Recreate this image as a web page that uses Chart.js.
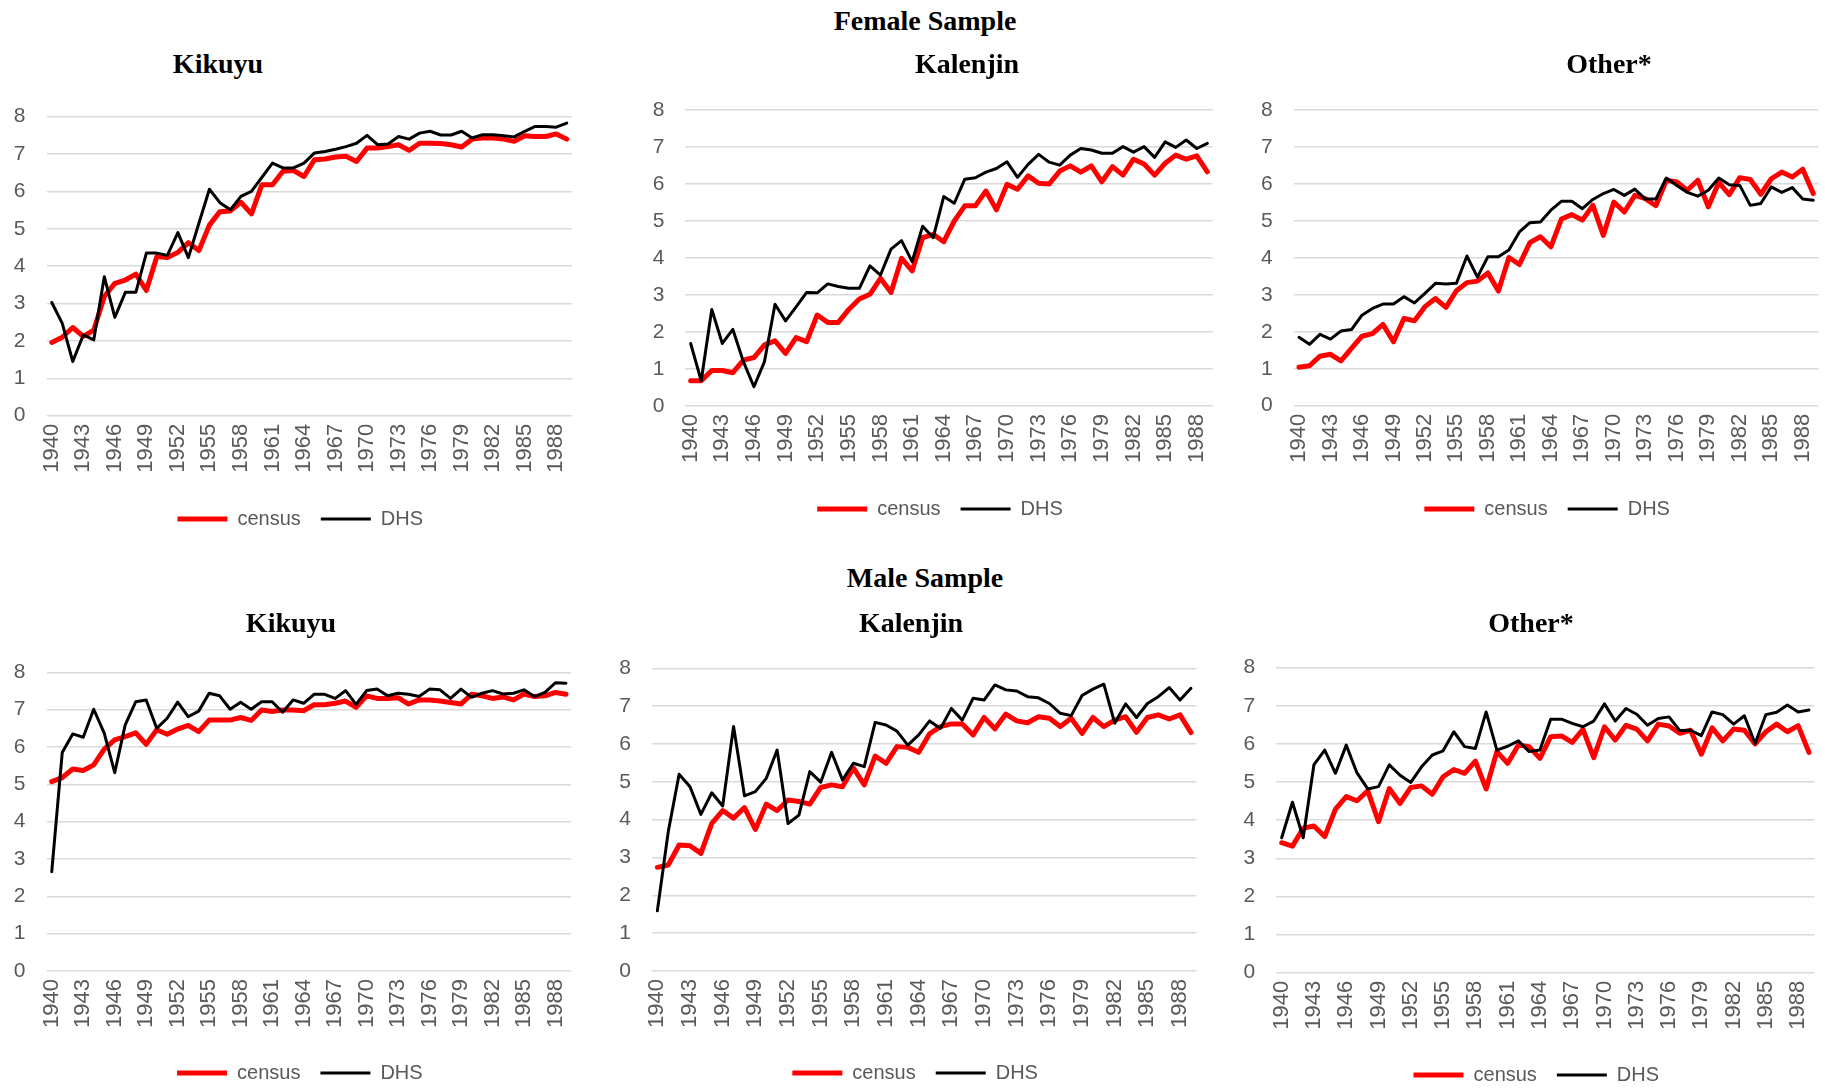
<!DOCTYPE html>
<html>
<head>
<meta charset="utf-8">
<script src="https://cdn.jsdelivr.net/npm/chart.js@4.4.1/dist/chart.umd.min.js"></script>
<style>
html, body { margin: 0; padding: 0; background: #fff; overflow: hidden; }
body { width: 1825px; height: 1091px; position: relative; }
canvas { position: absolute; }
.title {
    position: absolute;
    font-family: "Liberation Serif", "Times New Roman", serif;
    font-weight: bold;
    font-size: 28px;
    line-height: 1;
    color: #000;
    white-space: nowrap;
    transform: translate(-50%, -50%);
}
</style>
</head>
<body>
<div id="charts"></div>
<div class="title" style="left:925px;top:21px">Female Sample</div>
<div class="title" style="left:925px;top:578px">Male Sample</div>
<script>
const years = [
    '1940','1941','1942','1943','1944','1945','1946','1947','1948','1949',
    '1950','1951','1952','1953','1954','1955','1956','1957','1958','1959',
    '1960','1961','1962','1963','1964','1965','1966','1967','1968','1969',
    '1970','1971','1972','1973','1974','1975','1976','1977','1978','1979',
    '1980','1981','1982','1983','1984','1985','1986','1987','1988','1989'
];
const yTicks = [0, 1, 2, 3, 4, 5, 6, 7, 8];

// Female sample
const femaleKikuyuCensus = [1.96,2.10,2.36,2.12,2.29,3.19,3.54,3.63,3.79,3.35,4.26,4.23,4.37,4.63,4.42,5.10,5.46,5.48,5.71,5.40,6.18,6.18,6.54,6.56,6.40,6.85,6.87,6.92,6.94,6.80,7.16,7.16,7.20,7.25,7.10,7.29,7.29,7.28,7.25,7.19,7.40,7.43,7.43,7.40,7.34,7.49,7.47,7.47,7.54,7.40];
const femaleKikuyuDHS = [3.03,2.47,1.45,2.16,2.03,3.72,2.63,3.30,3.30,4.35,4.35,4.29,4.90,4.23,5.15,6.06,5.70,5.51,5.87,6.00,6.38,6.76,6.63,6.63,6.76,7.03,7.07,7.13,7.20,7.29,7.50,7.25,7.27,7.47,7.40,7.56,7.61,7.51,7.51,7.61,7.43,7.52,7.52,7.49,7.46,7.61,7.74,7.74,7.72,7.83];
const femaleKalenjinCensus = [0.68,0.68,0.96,0.96,0.90,1.24,1.31,1.65,1.76,1.42,1.85,1.74,2.46,2.26,2.26,2.61,2.89,3.02,3.45,3.07,3.99,3.65,4.55,4.64,4.44,5.00,5.41,5.41,5.81,5.30,5.99,5.86,6.22,6.02,6.00,6.35,6.49,6.32,6.49,6.06,6.47,6.24,6.67,6.54,6.24,6.56,6.78,6.67,6.76,6.33];
const femaleKalenjinDHS = [1.69,0.68,2.61,1.69,2.07,1.20,0.52,1.20,2.75,2.30,2.68,3.07,3.06,3.30,3.23,3.18,3.18,3.79,3.54,4.24,4.47,3.90,4.86,4.55,5.66,5.48,6.13,6.17,6.32,6.42,6.60,6.18,6.53,6.80,6.59,6.51,6.78,6.96,6.92,6.83,6.83,7.01,6.86,7.01,6.72,7.14,6.99,7.19,6.96,7.10];
const femaleOtherCensus = [1.04,1.08,1.34,1.39,1.21,1.55,1.88,1.95,2.20,1.73,2.36,2.30,2.68,2.90,2.66,3.11,3.33,3.37,3.59,3.10,4.01,3.82,4.41,4.57,4.30,5.05,5.17,5.02,5.42,4.61,5.51,5.24,5.69,5.60,5.41,6.10,6.05,5.83,6.10,5.38,6.04,5.71,6.17,6.12,5.72,6.14,6.32,6.19,6.40,5.74];
const femaleOtherDHS = [1.85,1.66,1.93,1.80,2.02,2.06,2.45,2.63,2.75,2.75,2.95,2.78,3.04,3.31,3.29,3.31,4.05,3.48,4.03,4.03,4.21,4.70,4.95,4.97,5.29,5.53,5.53,5.33,5.58,5.74,5.85,5.69,5.86,5.59,5.59,6.16,5.96,5.77,5.67,5.83,6.16,5.98,5.96,5.42,5.47,5.92,5.77,5.90,5.59,5.56];

// Male sample
const maleKikuyuCensus = [5.07,5.18,5.41,5.37,5.52,5.94,6.19,6.28,6.38,6.07,6.46,6.34,6.48,6.58,6.41,6.72,6.72,6.72,6.79,6.71,6.99,6.95,6.99,6.99,6.97,7.13,7.13,7.17,7.23,7.06,7.37,7.30,7.30,7.32,7.15,7.26,7.26,7.23,7.19,7.15,7.41,7.37,7.30,7.34,7.26,7.42,7.35,7.37,7.46,7.41];
const maleKikuyuDHS = [2.66,5.85,6.35,6.26,7.01,6.37,5.31,6.59,7.21,7.26,6.50,6.77,7.20,6.81,6.96,7.44,7.37,7.01,7.20,7.01,7.21,7.21,6.93,7.26,7.17,7.41,7.41,7.30,7.51,7.14,7.51,7.55,7.37,7.44,7.41,7.35,7.55,7.53,7.30,7.55,7.33,7.44,7.51,7.42,7.44,7.53,7.35,7.46,7.72,7.71];
const maleKalenjinCensus = [2.74,2.80,3.33,3.31,3.11,3.90,4.24,4.04,4.32,3.74,4.41,4.24,4.52,4.48,4.41,4.85,4.92,4.87,5.37,4.92,5.68,5.49,5.93,5.91,5.78,6.27,6.46,6.53,6.53,6.24,6.70,6.40,6.79,6.61,6.56,6.72,6.68,6.46,6.68,6.28,6.70,6.46,6.63,6.72,6.31,6.70,6.77,6.66,6.77,6.30];
const maleKalenjinDHS = [1.59,3.68,5.20,4.87,4.14,4.71,4.36,6.46,4.63,4.74,5.09,5.84,3.90,4.12,5.27,4.99,5.78,5.05,5.49,5.40,6.57,6.50,6.34,5.97,6.24,6.61,6.41,6.94,6.63,7.21,7.16,7.56,7.43,7.40,7.25,7.22,7.07,6.81,6.75,7.28,7.45,7.58,6.55,7.06,6.70,7.07,7.25,7.49,7.16,7.47];
const maleOtherCensus = [3.41,3.32,3.79,3.85,3.57,4.29,4.62,4.51,4.77,3.96,4.83,4.44,4.86,4.90,4.68,5.14,5.33,5.23,5.55,4.82,5.80,5.49,5.97,5.93,5.62,6.19,6.21,6.04,6.38,5.64,6.45,6.10,6.49,6.39,6.08,6.52,6.47,6.28,6.36,5.73,6.42,6.08,6.39,6.36,6.00,6.32,6.52,6.32,6.48,5.78];
const maleOtherDHS = [3.54,4.47,3.54,5.46,5.84,5.23,5.97,5.24,4.82,4.88,5.45,5.18,4.99,5.40,5.71,5.82,6.32,5.93,5.88,6.84,5.84,5.94,6.08,5.80,5.84,6.65,6.65,6.54,6.45,6.60,7.05,6.60,6.93,6.78,6.49,6.67,6.71,6.35,6.36,6.22,6.84,6.77,6.52,6.74,6.01,6.77,6.83,7.02,6.84,6.89];

// plot area boxes [left, top, right, bottom], legend centre y, title centre
const panels = [
    { title: 'Kikuyu',   tx: 218,  ty: 64,  census: femaleKikuyuCensus,   dhs: femaleKikuyuDHS,   box: [46.5, 116.7, 572, 415.7],     legendY: 519 },
    { title: 'Kalenjin', tx: 967,  ty: 64,  census: femaleKalenjinCensus, dhs: femaleKalenjinDHS, box: [685.4, 110, 1212.6, 406],     legendY: 509 },
    { title: 'Other*',   tx: 1609, ty: 64,  census: femaleOtherCensus,    dhs: femaleOtherDHS,    box: [1293.75, 110, 1818.5, 405.7], legendY: 509 },
    { title: 'Kikuyu',   tx: 291,  ty: 623, census: maleKikuyuCensus,     dhs: maleKikuyuDHS,     box: [46.5, 672.3, 571.2, 971],     legendY: 1073 },
    { title: 'Kalenjin', tx: 911,  ty: 623, census: maleKalenjinCensus,   dhs: maleKalenjinDHS,   box: [651.9, 668.3, 1196.4, 971],   legendY: 1073 },
    { title: 'Other*',   tx: 1531, ty: 623, census: maleOtherCensus,      dhs: maleOtherDHS,      box: [1276.3, 667.7, 1814.3, 972.7], legendY: 1075 }
];

Chart.defaults.font.family = "'Liberation Sans', Arial, sans-serif";
Chart.defaults.font.size = 20;
Chart.defaults.color = '#595959';

const Y_AXIS_W = 36;     // left value axis
const Y2_AXIS_W = 18;    // empty right axis, keeps the legend slightly left of the plot centre
const PAD_TOP = 36;
const LEGEND_H = 50;     // itemHeight 20 + padding 20 + 10
const container = document.getElementById('charts');

panels.forEach((p, n) => {
    const [left, top, right, bottom] = p.box;
    const plotW = right - left;
    const plotH = bottom - top;
    const xAxisH = p.legendY - 30 - bottom;

    const cLeft = Math.round(left - Y_AXIS_W - 4);
    const cTop = Math.round(top - PAD_TOP);
    const padL = left - Y_AXIS_W - cLeft;
    const padT = top - cTop;
    const W = Math.ceil(padL + Y_AXIS_W + plotW + Y2_AXIS_W + 2);
    const H = Math.ceil(padT + plotH + xAxisH + LEGEND_H);
    const padR = W - (padL + Y_AXIS_W + plotW + Y2_AXIS_W);
    const padB = H - (padT + plotH + xAxisH + LEGEND_H);

    const canvas = document.createElement('canvas');
    canvas.id = 'chart-' + n;
    canvas.width = W;
    canvas.height = H;
    canvas.style.left = cLeft + 'px';
    canvas.style.top = cTop + 'px';
    canvas.style.width = W + 'px';
    canvas.style.height = H + 'px';
    container.appendChild(canvas);

    const t = document.createElement('div');
    t.className = 'title';
    t.style.left = p.tx + 'px';
    t.style.top = p.ty + 'px';
    t.textContent = p.title;
    document.body.appendChild(t);

    new Chart(canvas.getContext('2d'), {
        type: 'line',
        data: {
            labels: years,
            datasets: [
                {
                    label: 'census',
                    data: p.census,
                    borderColor: '#ff0000',
                    backgroundColor: '#ff0000',
                    borderWidth: 5,
                    borderJoinStyle: 'round',
                    borderCapStyle: 'round',
                    pointRadius: 0,
                    tension: 0,
                    order: 1
                },
                {
                    label: 'DHS',
                    data: p.dhs,
                    borderColor: '#000000',
                    backgroundColor: '#000000',
                    borderWidth: 3,
                    borderJoinStyle: 'round',
                    borderCapStyle: 'round',
                    pointRadius: 0,
                    tension: 0,
                    order: 0
                }
            ]
        },
        options: {
            responsive: false,
            animation: false,
            devicePixelRatio: 1,
            layout: { padding: { left: padL, top: padT, right: padR, bottom: padB } },
            plugins: {
                title: { display: false },
                tooltip: { enabled: false },
                legend: {
                    position: 'bottom',
                    labels: {
                        usePointStyle: true,
                        pointStyle: 'line',
                        pointStyleWidth: 50,
                        padding: 20,
                        color: '#595959',
                        font: { size: 20 },
                        sort: (a, b) => a.datasetIndex - b.datasetIndex
                    }
                }
            },
            scales: {
                x: {
                    type: 'category',
                    offset: true,
                    grid: { display: false, drawTicks: false },
                    border: { display: false },
                    ticks: {
                        autoSkip: false,
                        minRotation: 90,
                        maxRotation: 90,
                        padding: 8,
                        font: { size: 22 },
                        callback: function(value, index) {
                            return index % 3 === 0 ? this.getLabelForValue(value) : null;
                        }
                    },
                    afterFit: (scale) => { scale.height = xAxisH; }
                },
                y: {
                    position: 'left',
                    min: yTicks[0],
                    max: yTicks[yTicks.length - 1],
                    afterBuildTicks: (scale) => { scale.ticks = yTicks.map(v => ({ value: v })); },
                    grid: { color: '#d9d9d9', lineWidth: 1.5, drawTicks: false },
                    border: { display: false },
                    ticks: { padding: 21, font: { size: 21 } },
                    afterFit: (scale) => { scale.width = Y_AXIS_W; }
                },
                y2: {
                    position: 'right',
                    min: 0,
                    max: 8,
                    grid: { display: false, drawTicks: false },
                    border: { display: false },
                    ticks: { display: false },
                    afterFit: (scale) => { scale.width = Y2_AXIS_W; }
                }
            }
        }
    });
});
</script>
</body>
</html>
